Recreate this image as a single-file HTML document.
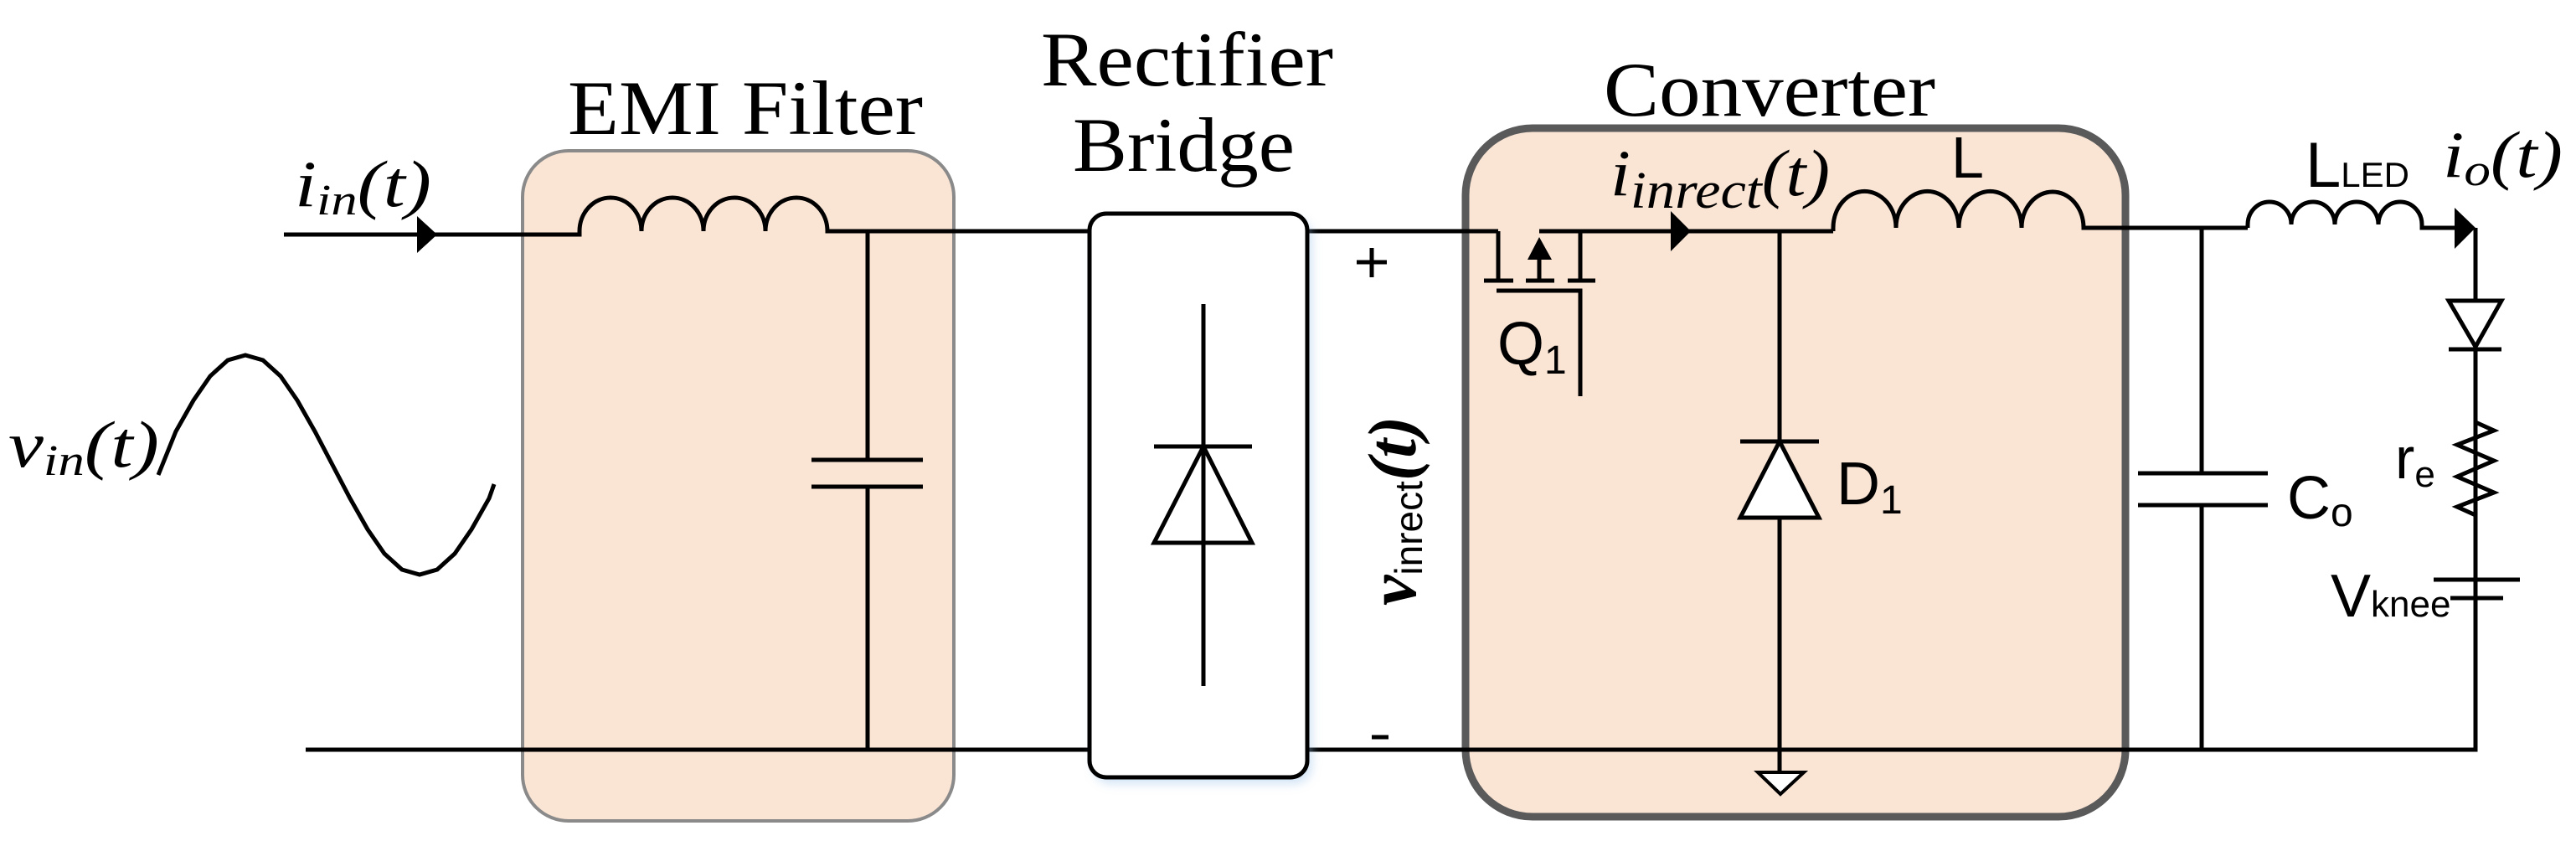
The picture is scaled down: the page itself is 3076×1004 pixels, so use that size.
<!DOCTYPE html>
<html><head><meta charset="utf-8"><style>
html,body{margin:0;padding:0;background:#fff;}
svg{display:block;}
.w{stroke:#000;stroke-width:5;fill:none;stroke-linecap:butt;}
.ser{font-family:"Liberation Serif",serif;font-style:italic;}
.sans{font-family:"Liberation Sans","DejaVu Sans",sans-serif;}
.title{font-family:"Liberation Serif",serif;}
</style></head><body>
<svg width="3076" height="1004" viewBox="0 0 3076 1004" xmlns="http://www.w3.org/2000/svg">
<defs>
<filter id="sh" x="-10%" y="-10%" width="120%" height="120%"><feGaussianBlur stdDeviation="6"/></filter>
</defs>
<!-- boxes -->
<rect x="624" y="180" width="515" height="800" rx="55" fill="#fae5d5" stroke="#8a8a8a" stroke-width="4"/>
<rect x="1750" y="153" width="788" height="822" rx="80" fill="#fae5d5" stroke="#5a5a5a" stroke-width="9"/>
<!-- titles -->
<text class="title" x="678" y="160" font-size="92" textLength="424" lengthAdjust="spacingAndGlyphs">EMI Filter</text>
<text class="title" x="1243" y="102" font-size="92" textLength="349" lengthAdjust="spacingAndGlyphs">Rectifier</text>
<text class="title" x="1281" y="204" font-size="92" textLength="265" lengthAdjust="spacingAndGlyphs">Bridge</text>
<text class="title" x="1915" y="138" font-size="92" textLength="396" lengthAdjust="spacingAndGlyphs">Converter</text>
<!-- sine -->
<polyline class="w" stroke-width="5" points="189,567 210,515 231,478 251,449 272,430 293,424 314,430 335,449 355,478 376,515 397,555 418,595 439,632 459,661 480,680 501,686 522,680 543,661 563,632 584,595 590,578"/>
<text class="ser" x="10" y="557" font-size="78" textLength="180" lengthAdjust="spacingAndGlyphs">v<tspan font-size="52" dy="10">in</tspan><tspan dy="-10">(t)</tspan></text>
<!-- top wire left + EMI inductor -->
<path class="w" d="M339,280 H692 V276 A37,40 0 0 1 766,276 A37,40 0 0 1 840,276 A37,40 0 0 1 914,276 A37,40 0 0 1 988,276 H1789"/>
<polygon points="498,258 522,280 498,302" fill="#000"/>
<text class="ser" x="352" y="246" font-size="78" textLength="163" lengthAdjust="spacingAndGlyphs">i<tspan font-size="52" dy="10">in</tspan><tspan dy="-10">(t)</tspan></text>
<!-- EMI cap -->
<path class="w" d="M1036,276 V549 M1036,581 V895 M969,549 H1102 M969,581 H1102"/>
<!-- bottom wire -->
<path class="w" d="M365,895 H2956 V272"/>
<!-- rectifier -->
<rect x="1306" y="262" width="260" height="673" rx="20" fill="#9cc3ea" opacity="0.5" filter="url(#sh)"/>
<rect x="1301" y="255" width="260" height="673" rx="20" fill="#fff" stroke="#000" stroke-width="5"/>
<path class="w" d="M1437,363 V819 M1378,533 H1495"/>
<polygon points="1437,533 1378,648 1495,648" fill="none" stroke="#000" stroke-width="5"/>
<!-- +/- and v_inrect -->
<path class="w" d="M1620,313 H1656 M1638,296 V331 M1638,880 H1658"/>
<g transform="translate(1690,723) rotate(-90)">
<text x="0" y="0"><tspan class="ser" font-size="82" font-weight="bold">v</tspan><tspan class="sans" font-size="46" dy="8">inrect</tspan><tspan class="ser" font-size="82" font-weight="bold" dy="-8">(t)</tspan></text>
</g>
<!-- MOSFET -->
<path class="w" d="M1789,276 V335 M1772,335 H1807 M1822,335 H1856 M1872,335 H1905 M1838,335 V300 M1838,276 H2189 M1887,276 V335 M1787,347 H1887 V473"/>
<polygon points="1838,283 1824,310 1853,310" fill="#000"/>
<text class="sans" x="1788" y="435" font-size="72">Q<tspan font-size="48" dy="11">1</tspan></text>
<polygon points="1995,252 2019,276 1995,300" fill="#000"/>
<text class="ser" x="1923" y="233" font-size="78" textLength="262" lengthAdjust="spacingAndGlyphs">i<tspan font-size="62" dy="15">inrect</tspan><tspan dy="-15">(t)</tspan></text>
<!-- L -->
<path class="w" d="M2189,276 V272 A37,43 0 0 1 2264,272 A37,43 0 0 1 2339,272 A37,43 0 0 1 2414,272 A37,43 0 0 1 2488,272 H2684"/>
<text class="sans" x="2330" y="212" font-size="70">L</text>
<!-- D1 -->
<path class="w" d="M2125,276 V922 M2078,527 H2172"/>
<polygon points="2125,527 2078,618 2172,618" fill="#fff" stroke="#000" stroke-width="5"/>
<polygon points="2099,922 2154,922 2126,948" fill="#fff" stroke="#000" stroke-width="4"/>
<text class="sans" x="2193" y="602" font-size="72">D<tspan font-size="48" dy="11">1</tspan></text>
<!-- Co -->
<path class="w" d="M2629,272 V565 M2629,603 V895 M2553,565 H2708 M2553,603 H2708"/>
<text class="sans" x="2731" y="619" font-size="72">C<tspan font-size="48" dy="9">o</tspan></text>
<!-- LLED -->
<path class="w" d="M2684,272 V268 A26,27 0 0 1 2736,268 A26,27 0 0 1 2788,268 A26,27 0 0 1 2840,268 A26,27 0 0 1 2892,268 V272 H2935"/>
<polygon points="2931,248 2956,272 2931,297" fill="#000"/>
<text class="sans" x="2753" y="223" font-size="76">L<tspan font-size="42">LED</tspan></text>
<text class="ser" x="2917" y="211" font-size="78" textLength="143" lengthAdjust="spacingAndGlyphs">i<tspan font-size="54" dy="10">o</tspan><tspan dy="-10">(t)</tspan></text>
<!-- LED -->
<path class="w" d="M2924,417 H2987"/>
<polygon points="2924,359 2987,359 2956,414" fill="#fff" stroke="#000" stroke-width="5"/>
<!-- resistor -->
<polyline class="w" fill="none" points="2956,417 2956,504 2978,514 2934,531 2978,550 2934,569 2978,588 2934,605 2956,615 2956,692"/>
<text class="sans" x="2860" y="571" font-size="70">r<tspan font-size="44" dy="10">e</tspan></text>
<!-- battery -->
<path class="w" d="M2906,692 H3009 M2926,714 H2989 M2956,714 V895"/>
<text class="sans" x="2783" y="736" font-size="72">V<tspan font-size="44" dy="0">knee</tspan></text>
</svg>
</body></html>
